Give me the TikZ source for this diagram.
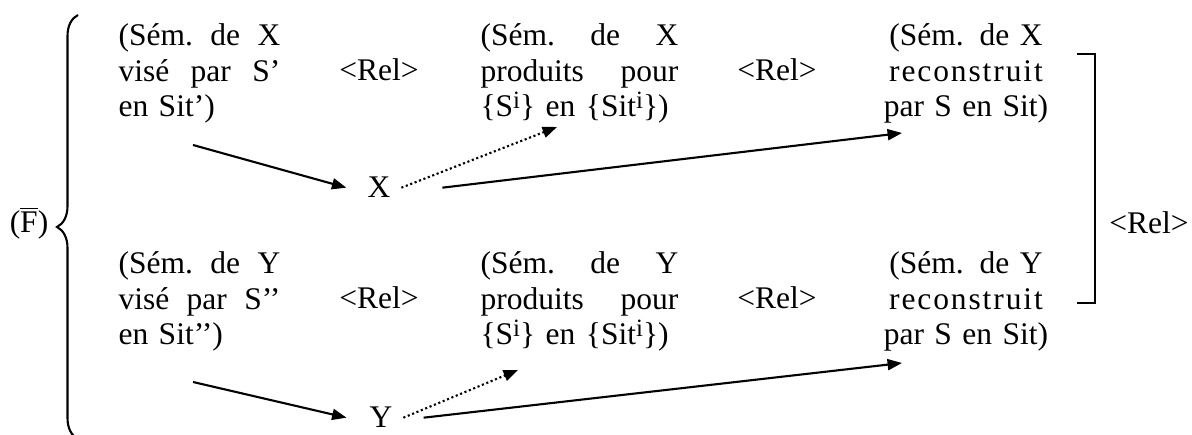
\documentclass[tikz,border=0pt]{standalone}
\usepackage{fontspec}
\setmainfont{Liberation Serif}
\usepackage{tikz}
\usetikzlibrary{arrows.meta, calc, decorations.pathreplacing}
\newcommand{\jline}[2][61.7pt]{\makebox[#1]{#2}}
\newcommand{\supi}{\raisebox{3pt}{\fontsize{9.5}{9.5}\selectfont i}}

\begin{document}
\begin{tikzpicture}[x=0.381pt, y=-0.381pt, >={Triangle[length=5.5pt,width=4.2pt]}, font=\fontsize{12}{13.4}\selectfont]
    \tikzstyle{vise} = [inner sep=0pt, anchor=base west, text width=61.7pt, align=left]
    \tikzstyle{prod} = [inner sep=0pt, anchor=base west, text width=75.4pt, align=left]
    \tikzstyle{recon} = [inner sep=0pt, anchor=base, text width=66pt, align=center]
    \tikzstyle{rel} = [inner sep=0pt, anchor=base]
    \tikzstyle{var} = [inner xsep=4pt, inner ysep=0pt, anchor=base]

    \useasboundingbox (0,0) rectangle (1192,435);

    \node (fbar) [rel] at (29,233) {($\overline{\mbox{F}}$)};
    \draw [thick, decorate, decoration={brace, amplitude=8pt}] (78,439) -- (78,15);

    % row X
    \node (viseX)  [vise]  at (118,46)  {\jline{(Sém.\hfill de\hfill X}\\\jline{visé\hfill par\hfill S’}\\en Sit’)};
    \node (relAX)  [rel]   at (379,81)  {<Rel>};
    \node (prodX)  [prod]  at (480,46)  {\jline[75.4pt]{(Sém.\hfill de\hfill X}\\\jline[75.4pt]{produits\hfill pour}\\\{S\supi\} en \{Sit\supi\})};
    \node (relBX)  [rel]   at (777,81)  {<Rel>};
    \node (reconX) [recon] at (966,46)  {(Sém. de X\\{\addfontfeature{LetterSpace=6}reconstruit}\\par S en Sit)};
    \node (varX)   [var]   at (379,198) {X};

    % row Y
    \node (viseY)  [vise]  at (118,274) {\jline{(Sém.\hfill de\hfill Y}\\\jline{visé\hfill par\hfill S’’}\\en Sit’’)};
    \node (relAY)  [rel]   at (379,309) {<Rel>};
    \node (prodY)  [prod]  at (480,274) {\jline[75.4pt]{(Sém.\hfill de\hfill Y}\\\jline[75.4pt]{produits\hfill pour}\\\{S\supi\} en \{Sit\supi\})};
    \node (relBY)  [rel]   at (777,309) {<Rel>};
    \node (reconY) [recon] at (966,274) {(Sém. de Y\\{\addfontfeature{LetterSpace=6}reconstruit}\\par S en Sit)};
    \node (varY)   [var]   at (381,428) {Y};

    \coordinate (brTop) at (1077,54);
    \coordinate (brBot) at (1077,303);
    \draw [thick] (brTop) -- ++(18,0) |- (brBot);
    \node (relC) [rel] at (1149,234) {<Rel>};

    \coordinate (fromX)    at (193,145);
    \coordinate (toProdX)  at (557,127);
    \coordinate (toReconX) at (902,133);
    \coordinate (fromY)    at (193,382);
    \coordinate (toProdY)  at (518,370);
    \coordinate (toReconY) at (902,363);

    \draw [->, thick] (fromX) -- ([xshift=-3.9pt]varX.west);
    \draw [->, thick, densely dotted] (varX.east) -- (toProdX);
    \draw [->, thick] ([xshift=15.6pt]varX.east) -- (toReconX);
    \draw [->, thick] (fromY) -- ([xshift=-4.6pt]varY.west);
    \draw [->, thick, densely dotted] (varY.east) -- (toProdY);
    \draw [->, thick] ([xshift=7.7pt]varY.east) -- (toReconY);
\end{tikzpicture}
\end{document}
